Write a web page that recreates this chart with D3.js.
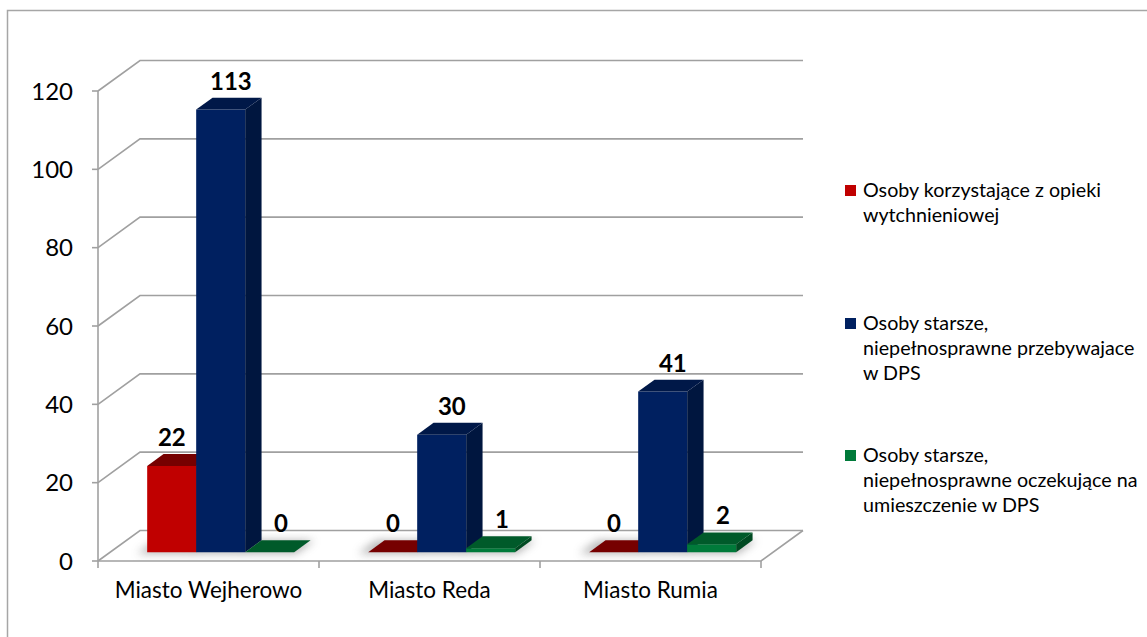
<!DOCTYPE html>
<html>
<head>
<meta charset="utf-8">
<script src="https://cdn.jsdelivr.net/npm/d3@7"></script>
<style>
  html, body { margin: 0; padding: 0; background: #ffffff; }
  svg { display: block; }
</style>
</head>
<body>
<svg id="chart" width="1147" height="637"></svg>
<script>
// Chart data
const categories = ["Miasto Wejherowo", "Miasto Reda", "Miasto Rumia"];
const seriesNames = [
  "Osoby korzystające z opieki wytchnieniowej",
  "Osoby starsze, niepełnosprawne przebywajace w DPS",
  "Osoby starsze, niepełnosprawne oczekujące na umieszczenie w DPS"
];
const respiteCare = [22, 0, 0];
const inCareHomes = [113, 30, 41];
const awaitingPlacement = [0, 1, 2];
const yTicks = [0, 20, 40, 60, 80, 100, 120];

// Legend text split into lines as displayed
const legendLines = [
  ["Osoby korzystające z opieki", "wytchnieniowej"],
  ["Osoby starsze,", "niepełnosprawne przebywajace", "w DPS"],
  ["Osoby starsze,", "niepełnosprawne oczekujące na", "umieszczenie w DPS"]
];

const values = [respiteCare, inCareHomes, awaitingPlacement];

// Face colours per series: front, top, side
const palette = [
  { front: "#c00000", top: "#760000", side: "#8a0000", key: "#c00000" },
  { front: "#002060", top: "#001848", side: "#00163f", key: "#002060" },
  { front: "#007a3a", top: "#005a2a", side: "#004a22", key: "#007a3a" }
];

const svg = d3.select("#chart");
const FONT = "Lato, 'Open Sans', sans-serif";

// 3D projection: depth fraction z moves points up-right
const DX = 42, DY = 30.5;
const y = d3.scaleLinear().domain([0, 120]).range([561, 91]);
const x = d3.scaleBand().domain(categories).range([98, 761]).paddingInner(0).paddingOuter(0);
const xs = d3.scaleBand().domain(d3.range(3)).range([0, x.bandwidth()]).paddingInner(0).paddingOuter(0.755);
const P = (px, v, z) => [px + z * DX, y(v) - z * DY];
const poly = pts => "M" + pts.map(p => p.join(",")).join("L") + "Z";

// Outer border (top and left edges visible)
svg.append("path")
  .attr("d", "M7.5,637 L7.5,10.5 L1147,10.5")
  .attr("fill", "none").attr("stroke", "#a6a6a6").attr("stroke-width", 1.5);

const gridColor = "#a0a0a0";
const x0 = x.range()[0], x1 = x.range()[1];

// Back wall gridlines and left wall diagonals
const grid = svg.append("g").attr("stroke", gridColor).attr("stroke-width", 1.6).attr("fill", "none");
yTicks.forEach(t => {
  const a = P(x0, t, 0), b = P(x0, t, 1), c = P(x1, t, 1);
  grid.append("path").attr("d", `M${a}L${b}L${c}`);
});
// Floor outline
grid.append("path").attr("d", poly([P(x0, 0, 0), P(x1, 0, 0), P(x1, 0, 1)]).replace("Z", ""));
// Vertical axis line
grid.append("line").attr("x1", x0).attr("x2", x0).attr("y1", y(120)).attr("y2", y(0));
// Tick marks on value axis
yTicks.forEach(t => {
  grid.append("line").attr("x1", x0 - 6).attr("x2", x0).attr("y1", y(t)).attr("y2", y(t));
});
// Tick marks on category axis
[...categories.map(c => x(c)), x1].forEach(px => {
  grid.append("line").attr("x1", px).attr("x2", px).attr("y1", y(0)).attr("y2", y(0) + 7);
});

// Value axis labels
svg.append("g").selectAll("text").data(yTicks).join("text")
  .attr("x", 73).attr("y", d => y(d)).attr("dy", "0.36em")
  .attr("text-anchor", "end")
  .attr("font-family", FONT).attr("font-size", 24).attr("fill", "#000")
  .text(d => d);

// Category labels
svg.append("g").selectAll("text").data(categories).join("text")
  .attr("x", d => x(d) + x.bandwidth() / 2).attr("y", 598)
  .attr("text-anchor", "middle")
  .attr("font-family", FONT).attr("font-size", 22.5).attr("fill", "#000")
  .text(d => d);

// Soft shadow filter for bar footprints
const defs = svg.append("defs");
defs.append("filter").attr("id", "soft").attr("x", "-50%").attr("y", "-50%").attr("width", "200%").attr("height", "200%")
  .append("feGaussianBlur").attr("stdDeviation", 4);

const Z0 = 0.29, Z1 = 0.68;
const bars = [];
categories.forEach((c, ci) => {
  values.forEach((arr, si) => {
    bars.push({ ci, si, v: arr[ci], left: x(c) + xs(si), w: xs.bandwidth() });
  });
});

// Shadows on the floor
const shadowG = svg.append("g").attr("filter", "url(#soft)").attr("opacity", 0.5);
bars.forEach(b => {
  const l = b.left - 8, r = b.left + b.w + 4;
  shadowG.append("path")
    .attr("d", poly([P(l, 0, Z0 - 0.05), P(r, 0, Z0 - 0.05), P(r, 0, Z1), P(l, 0, Z1)]))
    .attr("fill", "#6e6e6e");
});

// Bars drawn left to right so neighbours cover side faces
const barG = svg.append("g");
bars.forEach(b => {
  const col = palette[b.si];
  const l = b.left, r = b.left + b.w;
  if (b.v > 0) {
    barG.append("path").attr("fill", col.front)
      .attr("d", poly([P(l, 0, Z0), P(r, 0, Z0), P(r, b.v, Z0), P(l, b.v, Z0)]));
    barG.append("path").attr("fill", col.side)
      .attr("d", poly([P(r, 0, Z0), P(r, 0, Z1), P(r, b.v, Z1), P(r, b.v, Z0)]));
  }
  barG.append("path").attr("fill", col.top)
    .attr("d", poly([P(l, b.v, Z0), P(r, b.v, Z0), P(r, b.v, Z1), P(l, b.v, Z1)]));
});

// Data labels
const labelNudge = [-8, 2, 3];
svg.append("g").selectAll("text").data(bars).join("text")
  .attr("x", d => P(d.left + d.w / 2, d.v, (Z0 + Z1) / 2)[0] + labelNudge[d.si])
  .attr("y", d => P(0, d.v, Z1)[1] - 8)
  .attr("text-anchor", "middle")
  .attr("font-family", FONT).attr("font-weight", "bold").attr("font-size", 24).attr("fill", "#000")
  .text(d => d.v);

// Legend
const legend = svg.append("g");
const legendTop = [197, 330, 462];
legendLines.forEach((lines, i) => {
  legend.append("rect")
    .attr("x", 845).attr("y", legendTop[i] - 12).attr("width", 11).attr("height", 11)
    .attr("fill", palette[i].key);
  const t = legend.append("text")
    .attr("font-family", FONT).attr("font-size", 19.7).attr("fill", "#000");
  lines.forEach((ln, k) => {
    t.append("tspan").attr("x", 863).attr("y", legendTop[i] + k * 25).text(ln);
  });
});
</script>
</body>
</html>
